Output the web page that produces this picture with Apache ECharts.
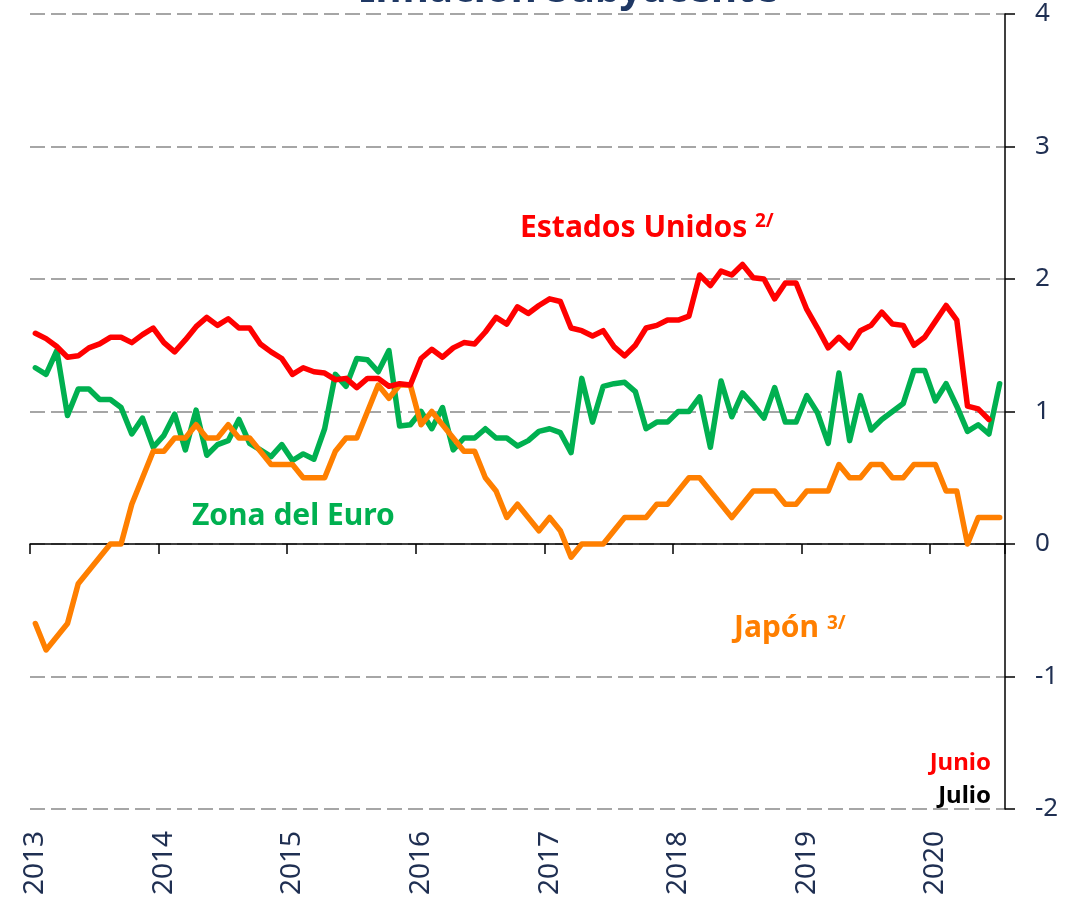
<!DOCTYPE html>
<html lang="es">
<head>
    <meta charset="utf-8">
    <title>Inflación Subyacente</title>
    <script src="https://cdn.jsdelivr.net/npm/echarts@6/dist/echarts.min.js"></script>
    <style>
        html, body { margin: 0; padding: 0; background: #ffffff; }
        #chart { width: 1081px; height: 900px; }
    </style>
</head>
<body>
<div id="chart"></div>
<script>
    // años del eje x (datos mensuales ene-2013 a jul-2020)
    var years = ['2013', '2014', '2015', '2016', '2017', '2018', '2019', '2020'];
    var lastYearMonths = 7;

    // Estados Unidos (hasta junio 2020)
    var estadosUnidos = [
        1.59, 1.55, 1.49, 1.41, 1.42, 1.48, 1.51, 1.56, 1.56, 1.52, 1.58, 1.63,
        1.52, 1.45, 1.54, 1.64, 1.71, 1.65, 1.70, 1.63, 1.63, 1.51, 1.45, 1.40,
        1.28, 1.33, 1.30, 1.29, 1.24, 1.25, 1.18, 1.25, 1.25, 1.19, 1.21, 1.20,
        1.40, 1.47, 1.41, 1.48, 1.52, 1.51, 1.60, 1.71, 1.66, 1.79, 1.74, 1.80,
        1.85, 1.83, 1.63, 1.61, 1.57, 1.61, 1.49, 1.42, 1.50, 1.63, 1.65, 1.69,
        1.69, 1.72, 2.03, 1.95, 2.06, 2.03, 2.11, 2.01, 2.00, 1.85, 1.97, 1.97,
        1.77, 1.63, 1.48, 1.56, 1.48, 1.61, 1.65, 1.75, 1.66, 1.65, 1.50, 1.56,
        1.68, 1.80, 1.69, 1.04, 1.02, 0.94
    ];

    // Zona del Euro (hasta julio 2020)
    var zonaEuro = [
        1.33, 1.28, 1.46, 0.97, 1.17, 1.17, 1.09, 1.09, 1.03, 0.83, 0.95, 0.73,
        0.82, 0.98, 0.71, 1.01, 0.67, 0.75, 0.78, 0.94, 0.76, 0.71, 0.66, 0.75,
        0.63, 0.68, 0.64, 0.87, 1.28, 1.19, 1.40, 1.39, 1.30, 1.46, 0.89, 0.90,
        1.00, 0.87, 1.03, 0.71, 0.80, 0.80, 0.87, 0.80, 0.80, 0.74, 0.78, 0.85,
        0.87, 0.84, 0.69, 1.25, 0.92, 1.19, 1.21, 1.22, 1.15, 0.87, 0.92, 0.92,
        1.00, 1.00, 1.11, 0.73, 1.23, 0.96, 1.14, 1.05, 0.95, 1.18, 0.92, 0.92,
        1.12, 0.99, 0.76, 1.29, 0.78, 1.12, 0.86, 0.94, 1.00, 1.06, 1.31, 1.31,
        1.08, 1.21, 1.04, 0.85, 0.90, 0.83, 1.21
    ];

    // Japón (hasta julio 2020)
    var japon = [
        -0.6, -0.8, -0.7, -0.6, -0.3, -0.2, -0.1, 0.0, 0.0, 0.3, 0.5, 0.7,
        0.7, 0.8, 0.8, 0.9, 0.8, 0.8, 0.9, 0.8, 0.8, 0.7, 0.6, 0.6,
        0.6, 0.5, 0.5, 0.5, 0.7, 0.8, 0.8, 1.0, 1.2, 1.1, 1.2, 1.2,
        0.9, 1.0, 0.9, 0.8, 0.7, 0.7, 0.5, 0.4, 0.2, 0.3, 0.2, 0.1,
        0.2, 0.1, -0.1, 0.0, 0.0, 0.0, 0.1, 0.2, 0.2, 0.2, 0.3, 0.3,
        0.4, 0.5, 0.5, 0.4, 0.3, 0.2, 0.3, 0.4, 0.4, 0.4, 0.3, 0.3,
        0.4, 0.4, 0.4, 0.6, 0.5, 0.5, 0.6, 0.6, 0.5, 0.5, 0.6, 0.6,
        0.6, 0.4, 0.4, 0.0, 0.2, 0.2, 0.2
    ];

    var yTicks = {min: -2, max: 4, interval: 1};

    // categorias mensuales
    var meses = [];
    for (var y = 0; y < years.length; y++) {
        var n = (y === years.length - 1) ? lastYearMonths : 12;
        for (var m = 1; m <= n; m++) {
            meses.push(years[y] + '-' + (m < 10 ? '0' + m : m));
        }
    }

    var navy = '#1f2f52';
    var font = '"Noto Sans", "Open Sans", sans-serif';

    var chart = echarts.init(document.getElementById('chart'), null, {renderer: 'canvas'});

    var option = {
        backgroundColor: '#ffffff',
        animation: false,
        grid: {left: 30, right: 76, top: 14, bottom: 91, containLabel: false},
        xAxis: [
            {
                type: 'category',
                data: meses,
                boundaryGap: true,
                axisLine: {onZero: true, lineStyle: {color: '#000000', width: 1.5}},
                axisTick: {show: true, interval: 11, length: 10, lineStyle: {color: '#000000', width: 1.5}},
                axisLabel: {show: false},
                splitLine: {show: false}
            },
            {
                type: 'category',
                data: meses,
                boundaryGap: true,
                position: 'bottom',
                axisLine: {show: false, onZero: false},
                axisTick: {show: false},
                axisLabel: {
                    interval: 11,
                    rotate: 90,
                    margin: 22,
                    color: navy,
                    fontFamily: font,
                    fontSize: 28,
                    formatter: function (v) { return v.slice(0, 4); }
                },
                splitLine: {show: false}
            }
        ],
        yAxis: {
            type: 'value',
            position: 'right',
            min: yTicks.min,
            max: yTicks.max,
            interval: yTicks.interval,
            axisLine: {show: true, lineStyle: {color: '#000000', width: 1.5}},
            axisTick: {show: true, length: 10, lineStyle: {color: '#000000', width: 1.5}},
            axisLabel: {margin: 30, color: navy, fontFamily: font, fontSize: 26},
            splitLine: {show: true, lineStyle: {color: '#a6a6a6', width: 2, type: [15, 6]}}
        },
        series: [
            {
                name: 'Zona del Euro',
                type: 'line',
                data: zonaEuro,
                showSymbol: false,
                lineStyle: {color: '#00b050', width: 5.5, join: 'round', cap: 'round'}
            },
            {
                name: 'Japón',
                type: 'line',
                data: japon,
                showSymbol: false,
                lineStyle: {color: '#ff7f00', width: 5.5, join: 'round', cap: 'round'}
            },
            {
                name: 'Estados Unidos',
                type: 'line',
                data: estadosUnidos,
                showSymbol: false,
                lineStyle: {color: '#ff0000', width: 5.5, join: 'round', cap: 'round'}
            }
        ],
        graphic: [
            {type: 'text', x: 569, y: -9, style: {text: 'Inflación Subyacente', fill: '#1f3864', font: 'bold 40px ' + font, align: 'center', verticalAlign: 'middle'}},
            {type: 'text', x: 520, y: 228, style: {text: 'Estados Unidos', fill: '#ff0000', font: 'bold 30px ' + font, verticalAlign: 'middle'}},
            {type: 'text', x: 755, y: 222, style: {text: '2/', fill: '#ff0000', font: 'bold 19px ' + font, verticalAlign: 'middle'}},
            {type: 'text', x: 192, y: 516, style: {text: 'Zona del Euro', fill: '#00b050', font: 'bold 30px ' + font, verticalAlign: 'middle'}},
            {type: 'text', x: 734, y: 628, style: {text: 'Japón', fill: '#ff7f00', font: 'bold 30px ' + font, verticalAlign: 'middle'}},
            {type: 'text', x: 827, y: 624, style: {text: '3/', fill: '#ff7f00', font: 'bold 19px ' + font, verticalAlign: 'middle'}},
            {type: 'text', x: 991, y: 763, style: {text: 'Junio', fill: '#ff0000', font: 'bold 24px ' + font, align: 'right', verticalAlign: 'middle'}},
            {type: 'text', x: 991, y: 796, style: {text: 'Julio', fill: '#000000', font: 'bold 24px ' + font, align: 'right', verticalAlign: 'middle'}}
        ]
    };

    chart.setOption(option);
</script>
</body>
</html>
